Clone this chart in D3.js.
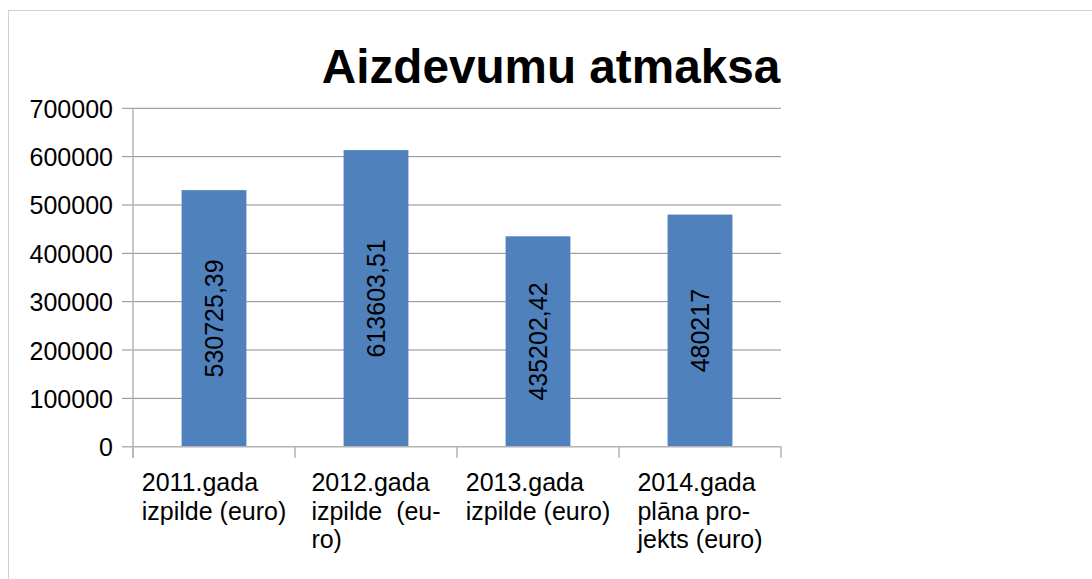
<!DOCTYPE html>
<html>
<head>
<meta charset="utf-8">
<script src="https://cdn.jsdelivr.net/npm/d3@7"></script>
<style>
  body { margin: 0; background: #fff; }
  text { font-family: "Liberation Sans", Arial, sans-serif; fill: #000; }
</style>
</head>
<body>
<div id="chart"></div>
<script>
// svg size
var width = 1092, height = 579;

// data
var categories = ["2011", "2012", "2013", "2014"];
var values = [530725.39, 613603.51, 435202.42, 480217];
var valueLabels = ["530725,39", "613603,51", "435202,42", "480217"];
var categoryLines = [
    ["2011.gada", "izpilde (euro)"],
    ["2012.gada", "izpilde  (eu-", "ro)"],
    ["2013.gada", "izpilde (euro)"],
    ["2014.gada", "plāna pro-", "jekts (euro)"]
];
var yTicks = [0, 100000, 200000, 300000, 400000, 500000, 600000, 700000];
var title = "Aizdevumu atmaksa";

// plot area
var plotLeft = 133, plotRight = 781, plotTop = 108.3, plotBottom = 446.7;

var svg = d3.select("#chart")
            .append("svg")
            .attr("width", width)
            .attr("height", height);

// outer frame
svg.append("rect")
    .attr("x", 8.5).attr("y", 10.5)
    .attr("width", width + 20).attr("height", height + 20)
    .attr("fill", "none")
    .attr("stroke", "#d0d0d0")
    .attr("stroke-width", 1);

var x = d3.scaleBand()
            .domain(categories)
            .range([plotLeft, plotRight])
            .paddingInner(0.6)
            .paddingOuter(0.3);

var y = d3.scaleLinear()
            .domain([0, 700000])
            .range([plotBottom, plotTop]);

var step = x.step();

// gridlines + left ticks
svg.append("g")
    .selectAll("line")
    .data(yTicks.filter(function(d){ return d > 0; }))
    .enter()
        .append("line")
        .attr("x1", plotLeft - 11)
        .attr("x2", plotRight)
        .attr("y1", function(d){ return y(d); })
        .attr("y2", function(d){ return y(d); })
        .attr("stroke", "#8c8c8c")
        .attr("stroke-width", 1);

// y tick labels
svg.append("g")
    .selectAll("text")
    .data(yTicks)
    .enter()
        .append("text")
        .attr("x", plotLeft - 20)
        .attr("y", function(d){ return y(d); })
        .attr("dy", "0.38em")
        .attr("text-anchor", "end")
        .style("font-size", "25px")
        .text(function(d){ return d; });

// bars
svg.append("g")
    .selectAll("rect")
    .data(values)
    .enter()
        .append("rect")
        .attr("x", function(d, i){ return x(categories[i]); })
        .attr("width", x.bandwidth())
        .attr("y", function(d){ return y(d); })
        .attr("height", function(d){ return y(0) - y(d); })
        .attr("fill", "#4f81bd");

// axes lines
svg.append("line")
    .attr("x1", plotLeft).attr("x2", plotLeft)
    .attr("y1", plotTop).attr("y2", plotBottom + 11)
    .attr("stroke", "#b3b3b3").attr("stroke-width", 1.5);

svg.append("line")
    .attr("x1", plotLeft - 11).attr("x2", plotRight)
    .attr("y1", plotBottom).attr("y2", plotBottom)
    .attr("stroke", "#b3b3b3").attr("stroke-width", 1.5);

// category ticks
svg.append("g")
    .selectAll("line")
    .data(d3.range(categories.length + 1))
    .enter()
        .append("line")
        .attr("x1", function(d){ return plotLeft + d * step; })
        .attr("x2", function(d){ return plotLeft + d * step; })
        .attr("y1", plotBottom)
        .attr("y2", plotBottom + 11)
        .attr("stroke", "#b3b3b3").attr("stroke-width", 1.5);

// value labels (rotated)
svg.append("g")
    .selectAll("text")
    .data(values)
    .enter()
        .append("text")
        .attr("transform", function(d, i){
            var cx = x(categories[i]) + x.bandwidth() / 2;
            var cy = (y(d) + y(0)) / 2;
            return "translate(" + cx + "," + cy + ") rotate(-90)";
        })
        .attr("text-anchor", "middle")
        .attr("dy", "0.36em")
        .style("font-size", "25px")
        .text(function(d, i){ return valueLabels[i]; });

// category labels
var catGroups = svg.append("g")
    .selectAll("text")
    .data(categoryLines)
    .enter()
        .append("text")
        .style("font-size", "25px")
        .style("white-space", "pre");

catGroups.each(function(lines, i){
    var t = d3.select(this);
    lines.forEach(function(line, j){
        t.append("tspan")
            .attr("y", 491 + j * 28.5)
            .text(line);
    });
    // centre the block, lines left aligned
    var w = d3.max(t.selectAll("tspan").nodes(), function(n){ return n.getComputedTextLength(); });
    var cx = x(categories[i]) + x.bandwidth() / 2;
    t.selectAll("tspan").attr("x", cx - w / 2);
});

// title
svg.append("text")
    .attr("x", 551)
    .attr("y", 83)
    .attr("text-anchor", "middle")
    .style("font-size", "47.7px")
    .style("font-weight", "bold")
    .text(title);
</script>
</body>
</html>
